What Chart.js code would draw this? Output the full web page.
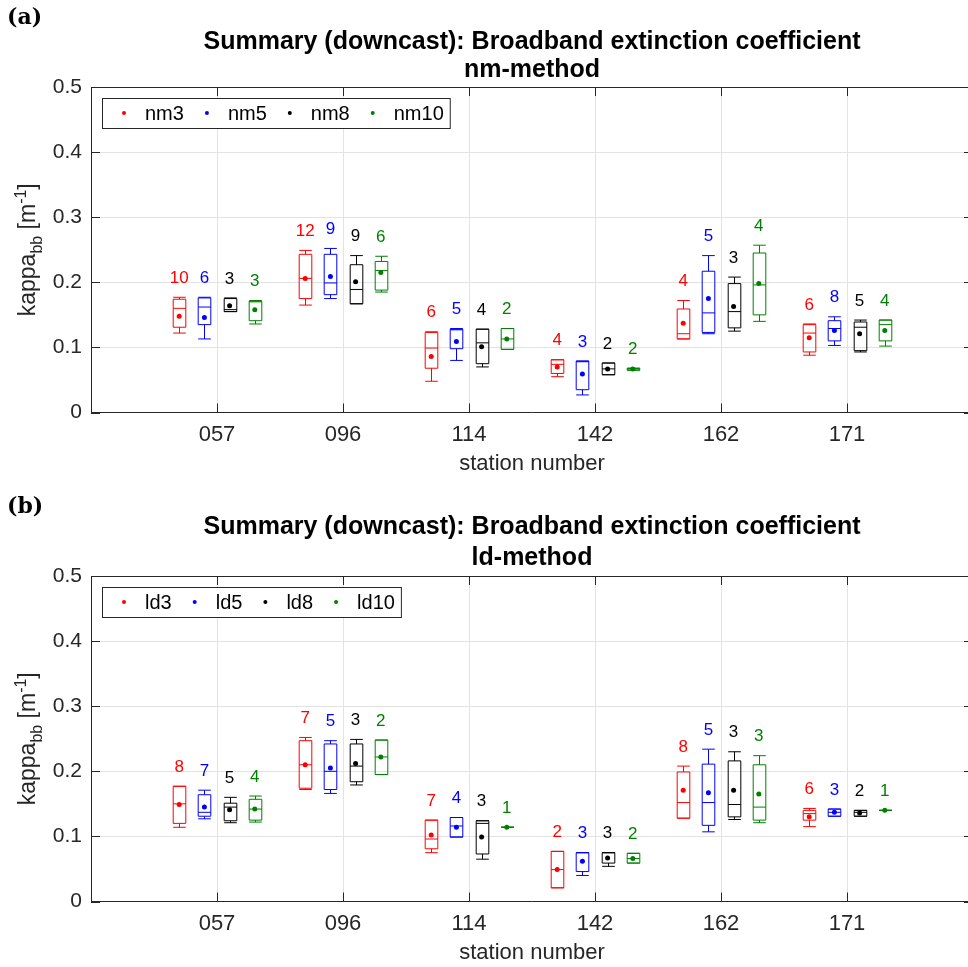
<!DOCTYPE html>
<html>
<head>
<meta charset="utf-8">
<script src="https://cdn.jsdelivr.net/npm/chart.js@4.4.0/dist/chart.umd.min.js"></script>
<style>
  html, body { margin: 0; padding: 0; background: #fff; overflow: hidden; width: 968px; height: 967px; }
  canvas { position: absolute; left: 0; }
  #chartA { top: 0; }
  #chartB { top: 489px; }
</style>
</head>
<body>
<canvas id="chartA" width="980" height="480"></canvas>
<canvas id="chartB" width="980" height="480"></canvas>
<script>
const stations = ['057', '096', '114', '142', '162', '171'];
const yTicks = [0, 0.1, 0.2, 0.3, 0.4, 0.5];

// per station: [lower whisker, q1, median, q3, upper whisker]
// panel (a) nm-method
const nm3Box = [[0.122, 0.131, 0.160, 0.174, 0.177], [0.165, 0.175, 0.206, 0.243, 0.249], [0.048, 0.068, 0.099, 0.123, 0.124],
                [0.055, 0.060, 0.074, 0.081, 0.081], [0.113, 0.113, 0.121, 0.159, 0.172], [0.088, 0.093, 0.122, 0.135, 0.136]];
const nm3Mean = [0.148, 0.206, 0.086, 0.070, 0.137, 0.115];
const nm3N = [10, 12, 6, 4, 4, 6];

const nm5Box = [[0.113, 0.135, 0.162, 0.176, 0.177], [0.175, 0.181, 0.199, 0.243, 0.252], [0.080, 0.098, 0.127, 0.128, 0.129],
                [0.027, 0.035, 0.078, 0.079, 0.079], [0.121, 0.123, 0.153, 0.217, 0.241], [0.103, 0.110, 0.129, 0.141, 0.147]];
const nm5Mean = [0.146, 0.209, 0.109, 0.059, 0.175, 0.126];
const nm5N = [6, 9, 5, 3, 5, 8];

const nm8Box = [[0.155, 0.155, 0.158, 0.175, 0.176], [0.167, 0.167, 0.189, 0.227, 0.241], [0.070, 0.075, 0.107, 0.128, 0.128],
                [0.058, 0.058, 0.067, 0.076, 0.076], [0.125, 0.130, 0.155, 0.198, 0.208], [0.093, 0.095, 0.131, 0.139, 0.142]];
const nm8Mean = [0.164, 0.201, 0.101, 0.067, 0.163, 0.121];
const nm8N = [3, 9, 4, 2, 3, 5];

const nm10Box = [[0.136, 0.141, 0.170, 0.171, 0.172], [0.185, 0.188, 0.218, 0.232, 0.240], [0.097, 0.097, 0.113, 0.129, 0.129],
                 [0.065, 0.065, 0.067, 0.068, 0.068], [0.140, 0.150, 0.196, 0.245, 0.257], [0.102, 0.110, 0.135, 0.142, 0.142]];
const nm10Mean = [0.158, 0.215, 0.113, 0.067, 0.198, 0.126];
const nm10N = [3, 6, 2, 2, 4, 4];

// panel (b) ld-method
const ld3Box = [[0.114, 0.120, 0.150, 0.177, 0.177], [0.172, 0.174, 0.210, 0.247, 0.252], [0.075, 0.081, 0.096, 0.125, 0.125],
                [0.021, 0.021, 0.049, 0.077, 0.077], [0.128, 0.128, 0.152, 0.199, 0.208], [0.115, 0.125, 0.135, 0.140, 0.143]];
const ld3Mean = [0.149, 0.210, 0.102, 0.049, 0.171, 0.130];
const ld3N = [8, 7, 7, 2, 8, 6];

const ld5Box = [[0.127, 0.131, 0.137, 0.164, 0.171], [0.166, 0.172, 0.200, 0.242, 0.247], [0.099, 0.099, 0.116, 0.129, 0.129],
                [0.040, 0.046, 0.075, 0.075, 0.075], [0.107, 0.117, 0.152, 0.211, 0.234], [0.131, 0.131, 0.137, 0.142, 0.142]];
const ld5Mean = [0.145, 0.205, 0.114, 0.062, 0.167, 0.137];
const ld5N = [7, 5, 4, 3, 5, 3];

const ld8Box = [[0.121, 0.124, 0.145, 0.151, 0.160], [0.179, 0.184, 0.208, 0.242, 0.249], [0.065, 0.073, 0.120, 0.124, 0.124],
                [0.054, 0.059, 0.075, 0.075, 0.075], [0.126, 0.130, 0.149, 0.216, 0.230], [0.131, 0.131, 0.137, 0.140, 0.140]];
const ld8Mean = [0.141, 0.212, 0.099, 0.067, 0.171, 0.136];
const ld8N = [5, 3, 3, 3, 3, 2];

const ld10Box = [[0.122, 0.125, 0.142, 0.157, 0.162], [0.195, 0.195, 0.222, 0.248, 0.248], [0.114, 0.114, 0.114, 0.114, 0.114],
                 [0.059, 0.059, 0.066, 0.074, 0.074], [0.121, 0.125, 0.145, 0.210, 0.224], [0.140, 0.140, 0.140, 0.140, 0.140]];
const ld10Mean = [0.142, 0.222, 0.114, 0.066, 0.165, 0.140];
const ld10N = [4, 2, 1, 2, 3, 1];

const seriesColors = ['#ff0000', '#0000ff', '#000000', '#008000'];
const seriesOffsets = [-0.3, -0.1, 0.1, 0.3];
const axisColor = '#262626';
const fontFamily = '"Liberation Sans", Arial, Helvetica, sans-serif';

// boxes, whiskers, counts, legend and labels drawn on top of the chart scales
const boxPlugin = {
    id: 'boxes',
    beforeDatasetsDraw(chart, args, opts) {
        const { ctx, scales: { x, y } } = chart;
        const half = x.getPixelForValue(0.05) - x.getPixelForValue(0);
        opts.boxes.forEach((series, s) => {
            ctx.save();
            ctx.strokeStyle = seriesColors[s];
            ctx.lineWidth = 1;
            series.forEach((b, i) => {
                const cx = Math.round(x.getPixelForValue(i + 1 + seriesOffsets[s])) + 0.5;
                const [lo, q1, med, q3, hi] = b.map(v => y.getPixelForValue(v));
                ctx.beginPath();
                ctx.rect(cx - half, q3, 2 * half, q1 - q3);
                ctx.moveTo(cx - half, med); ctx.lineTo(cx + half, med);
                ctx.moveTo(cx, q3); ctx.lineTo(cx, hi);
                ctx.moveTo(cx - half, hi); ctx.lineTo(cx + half, hi);
                ctx.moveTo(cx, q1); ctx.lineTo(cx, lo);
                ctx.moveTo(cx - half, lo); ctx.lineTo(cx + half, lo);
                ctx.stroke();
            });
            ctx.restore();
        });
    },
    afterDatasetsDraw(chart, args, opts) {
        const { ctx, scales: { x, y } } = chart;
        ctx.save();
        ctx.font = '17px ' + fontFamily;
        ctx.textAlign = 'center';
        ctx.textBaseline = 'middle';
        opts.counts.forEach((series, s) => {
            ctx.fillStyle = seriesColors[s];
            series.forEach((n, i) => {
                const cx = x.getPixelForValue(i + 1 + seriesOffsets[s]);
                const top = y.getPixelForValue(opts.boxes[s][i][4]);
                ctx.fillText(String(n), cx, top - 19);
            });
        });
        ctx.restore();
    },
    afterDraw(chart, args, opts) {
        const { ctx, chartArea: area, scales: { x, y } } = chart;
        ctx.save();
        // top and right frame + inward ticks
        ctx.strokeStyle = axisColor;
        ctx.lineWidth = 1;
        ctx.beginPath();
        ctx.moveTo(area.left, area.top + 0.5); ctx.lineTo(area.right, area.top + 0.5);
        ctx.moveTo(area.right - 0.5, area.top); ctx.lineTo(area.right - 0.5, area.bottom);
        stations.forEach((st, i) => {
            const px = Math.round(x.getPixelForValue(i + 1)) + 0.5;
            ctx.moveTo(px, area.bottom); ctx.lineTo(px, area.bottom - 9);
            ctx.moveTo(px, area.top); ctx.lineTo(px, area.top + 9);
        });
        yTicks.forEach(v => {
            const py = Math.round(y.getPixelForValue(v)) + 0.5;
            ctx.moveTo(area.left, py); ctx.lineTo(area.left + 9, py);
            ctx.moveTo(area.right, py); ctx.lineTo(area.right - 9, py);
        });
        ctx.stroke();

        // legend box
        const lx = area.left + 11, ly = area.top + 11, lh = 30;
        ctx.font = '20px ' + fontFamily;
        let w = 22;
        const items = chart.data.datasets.map(d => {
            const item = { dot: w, text: w + 21, label: d.label, color: d.pointBackgroundColor };
            w = w + 21 + ctx.measureText(d.label).width + 23;
            return item;
        });
        const lw = w - 23 + 6;
        ctx.fillStyle = '#fff';
        ctx.fillRect(lx, ly, lw, lh);
        ctx.strokeStyle = axisColor;
        ctx.strokeRect(lx + 0.5, ly + 0.5, lw, lh);
        ctx.textBaseline = 'middle';
        ctx.textAlign = 'left';
        items.forEach(it => {
            ctx.fillStyle = it.color;
            ctx.beginPath();
            ctx.arc(lx + it.dot, ly + lh / 2, 2, 0, Math.PI * 2);
            ctx.fill();
            ctx.fillStyle = '#000';
            ctx.fillText(it.label, lx + it.text, ly + lh / 2 + 1);
        });

        const cx = (area.left + area.right) / 2;
        // titles
        ctx.fillStyle = '#000';
        ctx.textAlign = 'center';
        ctx.font = 'bold 25px ' + fontFamily;
        ctx.fillText('Summary (downcast): Broadband extinction coefficient', cx, opts.titleY[0]);
        ctx.fillText(opts.subtitle, cx, opts.titleY[1]);

        // panel tag
        ctx.textAlign = 'left';
        ctx.font = 'bold 22px "DejaVu Serif", serif';
        ctx.fillText(opts.tag, 7, 18);

        // x label
        ctx.fillStyle = axisColor;
        ctx.textAlign = 'center';
        ctx.font = '22px ' + fontFamily;
        ctx.fillText('station number', cx, area.bottom + 51);

        // y label with subscript / superscript
        const parts = [
            { t: 'kappa', size: 23, dy: 0 },
            { t: 'bb', size: 16, dy: 7 },
            { t: ' [m', size: 23, dy: 0 },
            { t: '-1', size: 16, dy: -9 },
            { t: ']', size: 23, dy: 0 }
        ];
        ctx.translate(35, (area.top + area.bottom) / 2);
        ctx.rotate(-Math.PI / 2);
        ctx.textAlign = 'left';
        ctx.textBaseline = 'alphabetic';
        let total = 0;
        parts.forEach(p => { ctx.font = p.size + 'px ' + fontFamily; p.w = ctx.measureText(p.t).width; total += p.w; });
        let px = -total / 2;
        parts.forEach(p => {
            ctx.font = p.size + 'px ' + fontFamily;
            ctx.fillText(p.t, px, p.dy);
            px += p.w;
        });
        ctx.restore();
    }
};

function makePanel(canvasId, tag, subtitle, titleY, names, boxes, means, counts) {
    const datasets = names.map((name, s) => ({
        label: name,
        data: means[s].map((m, i) => ({ x: i + 1 + seriesOffsets[s], y: m })),
        pointRadius: 2.5,
        pointHoverRadius: 2.5,
        pointBorderWidth: 0,
        pointBackgroundColor: seriesColors[s],
        pointBorderColor: seriesColors[s],
        showLine: false
    }));

    new Chart(document.getElementById(canvasId).getContext('2d'), {
        type: 'scatter',
        data: { datasets },
        options: {
            responsive: false,
            animation: false,
            events: [],
            layout: { padding: { top: 87, right: 7, left: 0, bottom: 0 } },
            scales: {
                x: {
                    type: 'linear',
                    min: 0,
                    max: 7,
                    afterBuildTicks: scale => { scale.ticks = stations.map((s, i) => ({ value: i + 1 })); },
                    afterFit: scale => { scale.height = 67.5; },
                    grid: { color: '#e3e3e3', drawTicks: false },
                    border: { color: axisColor },
                    ticks: {
                        padding: 9,
                        maxRotation: 0,
                        color: axisColor,
                        font: { family: fontFamily, size: 22 },
                        callback: v => stations[v - 1] || ''
                    }
                },
                y: {
                    min: 0,
                    max: 0.5,
                    afterBuildTicks: scale => { scale.ticks = yTicks.map(v => ({ value: v })); },
                    afterFit: scale => { scale.width = 91; },
                    grid: { color: '#e3e3e3', drawTicks: false },
                    border: { color: axisColor },
                    ticks: {
                        padding: 9,
                        color: axisColor,
                        font: { family: fontFamily, size: 21 },
                        callback: v => v === 0 ? '0' : v.toFixed(1)
                    }
                }
            },
            plugins: {
                legend: { display: false },
                title: { display: false },
                tooltip: { enabled: false },
                boxes: { boxes, counts, tag, subtitle, titleY }
            }
        },
        plugins: [boxPlugin]
    });
}

makePanel('chartA', '(a)', 'nm-method', [42, 70], ['nm3', 'nm5', 'nm8', 'nm10'],
    [nm3Box, nm5Box, nm8Box, nm10Box], [nm3Mean, nm5Mean, nm8Mean, nm10Mean], [nm3N, nm5N, nm8N, nm10N]);
makePanel('chartB', '(b)', 'ld-method', [38, 69], ['ld3', 'ld5', 'ld8', 'ld10'],
    [ld3Box, ld5Box, ld8Box, ld10Box], [ld3Mean, ld5Mean, ld8Mean, ld10Mean], [ld3N, ld5N, ld8N, ld10N]);
</script>
</body>
</html>
